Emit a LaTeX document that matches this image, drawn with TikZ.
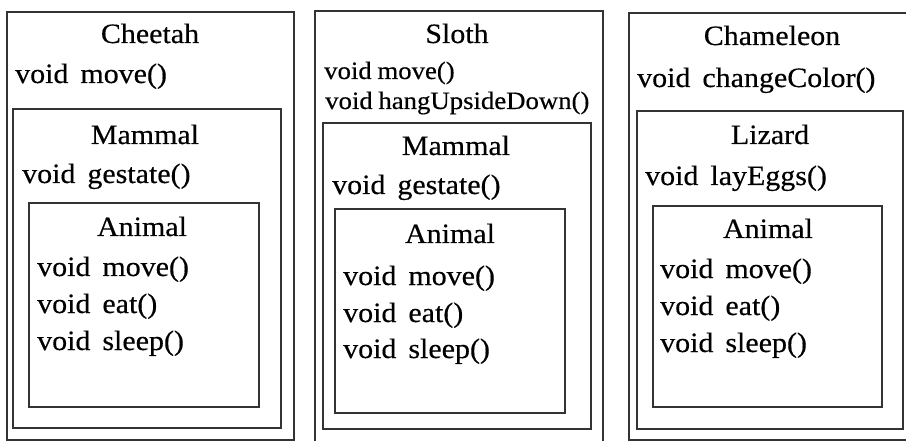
\documentclass[tikz,border=0pt]{standalone}
\usepackage{fontspec}
\setmainfont{Liberation Serif}[FakeStretch=1.07, WordSpace=1.6, FakeBold=0.4]
\newfontfamily\tightfont{Liberation Serif}[FakeStretch=1.07, WordSpace=0.85, FakeBold=0.4]
\begin{document}
\begin{tikzpicture}[x=1pt,y=-1pt,
  box/.style={draw=black!80, line width=2pt},
  ttl/.style={anchor=base, inner sep=0pt, font=\fontsize{28}{34}\selectfont},
  meth/.style={anchor=base west, inner sep=0pt, font=\fontsize{28}{34}\selectfont},
  smeth/.style={anchor=base west, inner sep=0pt, font=\tightfont\fontsize{25}{30}\selectfont}]
\useasboundingbox (0,0) rectangle (906,441);
\clip (0,0) rectangle (906,441);
% Cheetah
\draw[box] (7,12) rectangle (294,440);
\draw[box] (13,109) rectangle (281,428);
\draw[box] (29,203) rectangle (259,407);
\node[ttl] (cheetah) at (150,43) {Cheetah};
\node[meth] (cmove) at (15,83) {void move()};
\node[ttl] (cmammal) at (145,144) {Mammal};
\node[meth] (cgest) at (22,183) {void gestate()};
\node[ttl] (canimal) at (142,236) {Animal};
\node[meth] (camove) at (37,276) {void move()};
\node[meth] (caeat) at (37,313) {void eat()};
\node[meth] (casleep) at (37,350) {void sleep()};
% Sloth
\draw[box] (315,11) rectangle (603,450);
\draw[box] (323,123) rectangle (591,429);
\draw[box] (335,209) rectangle (565,413);
\node[ttl] (sloth) at (457,43) {Sloth};
\node[smeth] (smove) at (324,79) {void move()};
\node[smeth] (shang) at (325,109) {void hangUpsideDown()};
\node[ttl] (smammal) at (456,155) {Mammal};
\node[meth] (sgest) at (332,194) {void gestate()};
\node[ttl] (sanimal) at (450,243) {Animal};
\node[meth] (samove) at (343,285) {void move()};
\node[meth] (saeat) at (343,322) {void eat()};
\node[meth] (sasleep) at (343,358) {void sleep()};
% Chameleon
\draw[box] (629,13) rectangle (915,440);
\draw[box] (637,111) rectangle (903,429);
\draw[box] (653,206) rectangle (882,407);
\node[ttl] (cham) at (772,45) {Chameleon};
\node[meth] (hchange) at (637,87) {void changeColor()};
\node[ttl] (hlizard) at (770,144) {Lizard};
\node[meth] (hlay) at (645,185) {void layEggs()};
\node[ttl] (hanimal) at (768,238) {Animal};
\node[meth] (hamove) at (660,278) {void move()};
\node[meth] (haeat) at (660,315) {void eat()};
\node[meth] (hasleep) at (660,352) {void sleep()};
\end{tikzpicture}
\end{document}
